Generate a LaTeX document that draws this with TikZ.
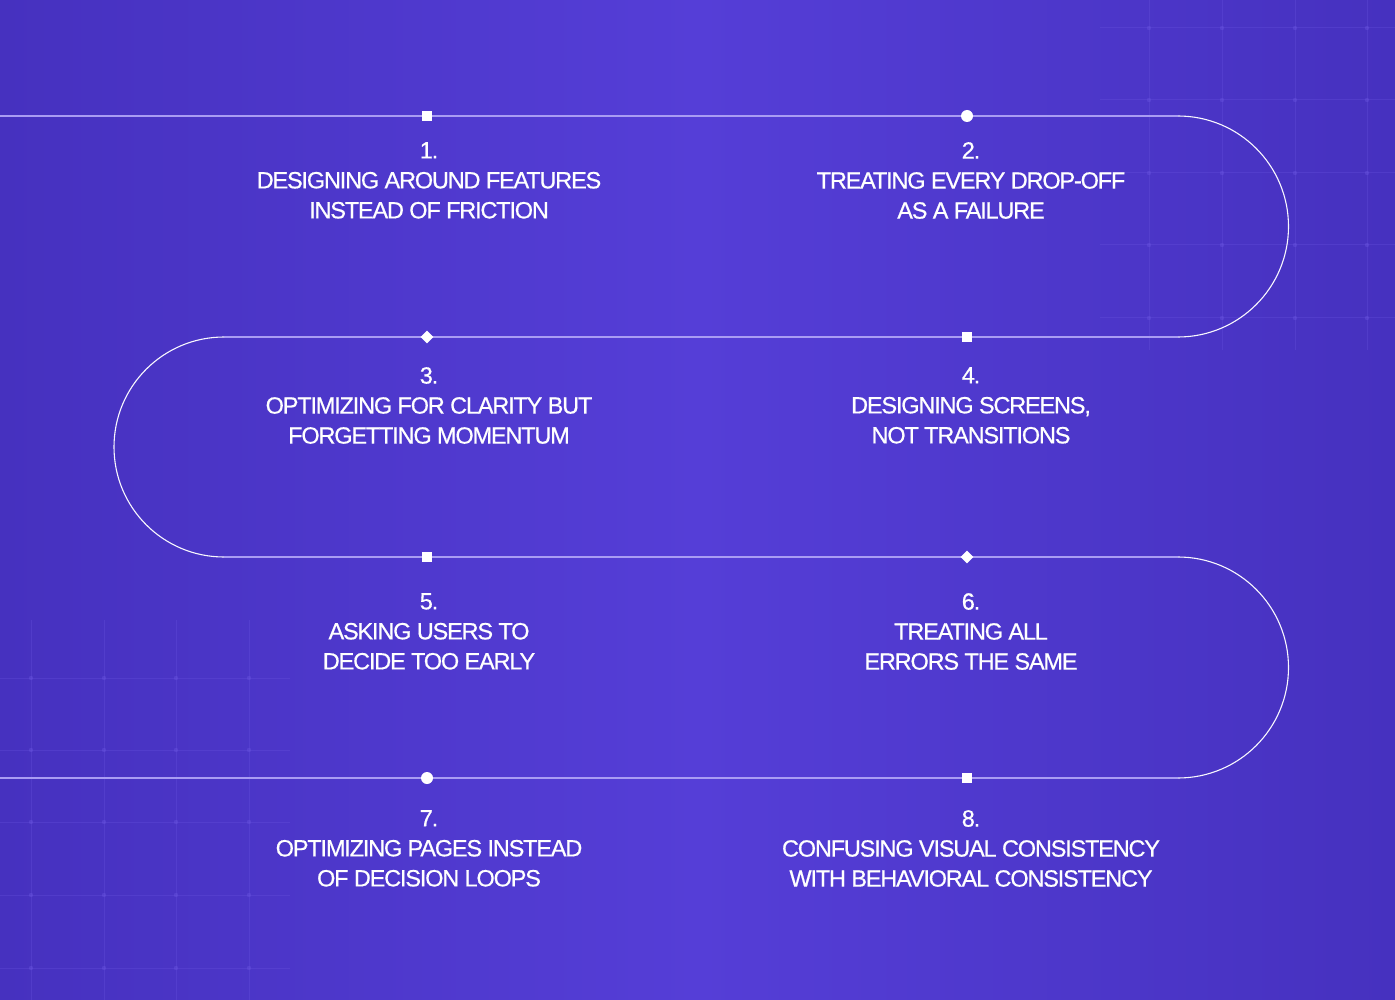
\documentclass[tikz,border=0pt]{standalone}
\usepackage{fontspec}
\setmainfont{Liberation Sans}[LetterSpace=-5,FakeBold=0.6]
\definecolor{bgedge}{HTML}{4631BF}
\definecolor{bgmid}{HTML}{553ED7}
\definecolor{linecol}{HTML}{A99CF3}
\definecolor{gridcol}{HTML}{6A55E0}
\begin{document}
\begin{tikzpicture}[x=1pt,y=-1pt,
  straight/.style={draw=linecol,line width=1.6pt},
  curve/.style={draw=white!92!linecol,line width=1.1pt},
  sqmark/.style={fill=white,draw=none,minimum size=9.5pt,inner sep=0pt},
  dotmark/.style={circle,fill=white,draw=none,minimum size=12pt,inner sep=0pt},
  dmmark/.style={fill=white,draw=none,minimum size=9pt,inner sep=0pt,rotate=45},
  label/.style={text=white,align=center,font=\fontsize{23.5}{30}\selectfont,inner sep=0pt,anchor=north},
  gridline/.style={draw=gridcol,line width=1pt,opacity=0.3},
  griddot/.style={fill=gridcol,opacity=0.4}]
\useasboundingbox (0,0) rectangle (1395,1000);
\fill[left color=bgedge,right color=bgedge,middle color=bgmid] (0,0) rectangle (1395,1000);
% faint grid top-right
\foreach \gx in {1149,1222,1295,1367} {\draw[gridline] (\gx,0) -- (\gx,350);}
\foreach \gy in {28,100,173,245,318} {\draw[gridline] (1100,\gy) -- (1395,\gy);}
\foreach \gx in {1149,1222,1295,1367} {\foreach \gy in {28,100,173,245,318} {\fill[griddot] (\gx,\gy) circle (2.2);}}
% faint grid bottom-left
\foreach \gx in {31,104,176,249} {\draw[gridline] (\gx,620) -- (\gx,1000);}
\foreach \gy in {678,750,822,895,968} {\draw[gridline] (0,\gy) -- (290,\gy);}
\foreach \gx in {31,104,176,249} {\foreach \gy in {678,750,822,895,968} {\fill[griddot] (\gx,\gy) circle (2.2);}}
% path coordinates
\coordinate (s0) at (0,116);
\coordinate (r1a) at (1178,116);
\coordinate (r1b) at (1178,337);
\coordinate (l1a) at (224,337);
\coordinate (l1b) at (224,557);
\coordinate (r2a) at (1178,557);
\coordinate (r2b) at (1178,778);
\coordinate (e0) at (0,778);
\draw[straight] (s0) -- (r1a);
\draw[curve] (r1a) arc[start angle=-90,end angle=90,radius=110.5];
\draw[straight] (r1b) -- (l1a);
\draw[curve] (l1a) arc[start angle=-90,end angle=-270,radius=110];
\draw[straight] (l1b) -- (r2a);
\draw[curve] (r2a) arc[start angle=-90,end angle=90,radius=110.5];
\draw[straight] (r2b) -- (e0);
% markers
\node[sqmark] (m1) at (427,116) {};
\node[dotmark] (m2) at (967,116) {};
\node[dmmark] (m3) at (427,337) {};
\node[sqmark] (m4) at (967,337) {};
\node[sqmark] (m5) at (427,557) {};
\node[dmmark] (m6) at (967,557) {};
\node[dotmark] (m7) at (427,778) {};
\node[sqmark] (m8) at (967,778) {};
% labels
\node[label] (t1) at (429,142) {1.\\DESIGNING AROUND FEATURES\\INSTEAD OF FRICTION};
\node[label] (t2) at (971,142) {2.\\TREATING EVERY DROP-OFF\\AS A FAILURE};
\node[label] (t3) at (429,367) {3.\\OPTIMIZING FOR CLARITY BUT\\FORGETTING MOMENTUM};
\node[label] (t4) at (971,367) {4.\\DESIGNING SCREENS,\\NOT TRANSITIONS};
\node[label] (t5) at (429,593) {5.\\ASKING USERS TO\\DECIDE TOO EARLY};
\node[label] (t6) at (971,593) {6.\\TREATING ALL\\ERRORS THE SAME};
\node[label] (t7) at (429,810) {7.\\OPTIMIZING PAGES INSTEAD\\OF DECISION LOOPS};
\node[label] (t8) at (971,810) {8.\\CONFUSING VISUAL CONSISTENCY\\WITH BEHAVIORAL CONSISTENCY};
\end{tikzpicture}
\end{document}
